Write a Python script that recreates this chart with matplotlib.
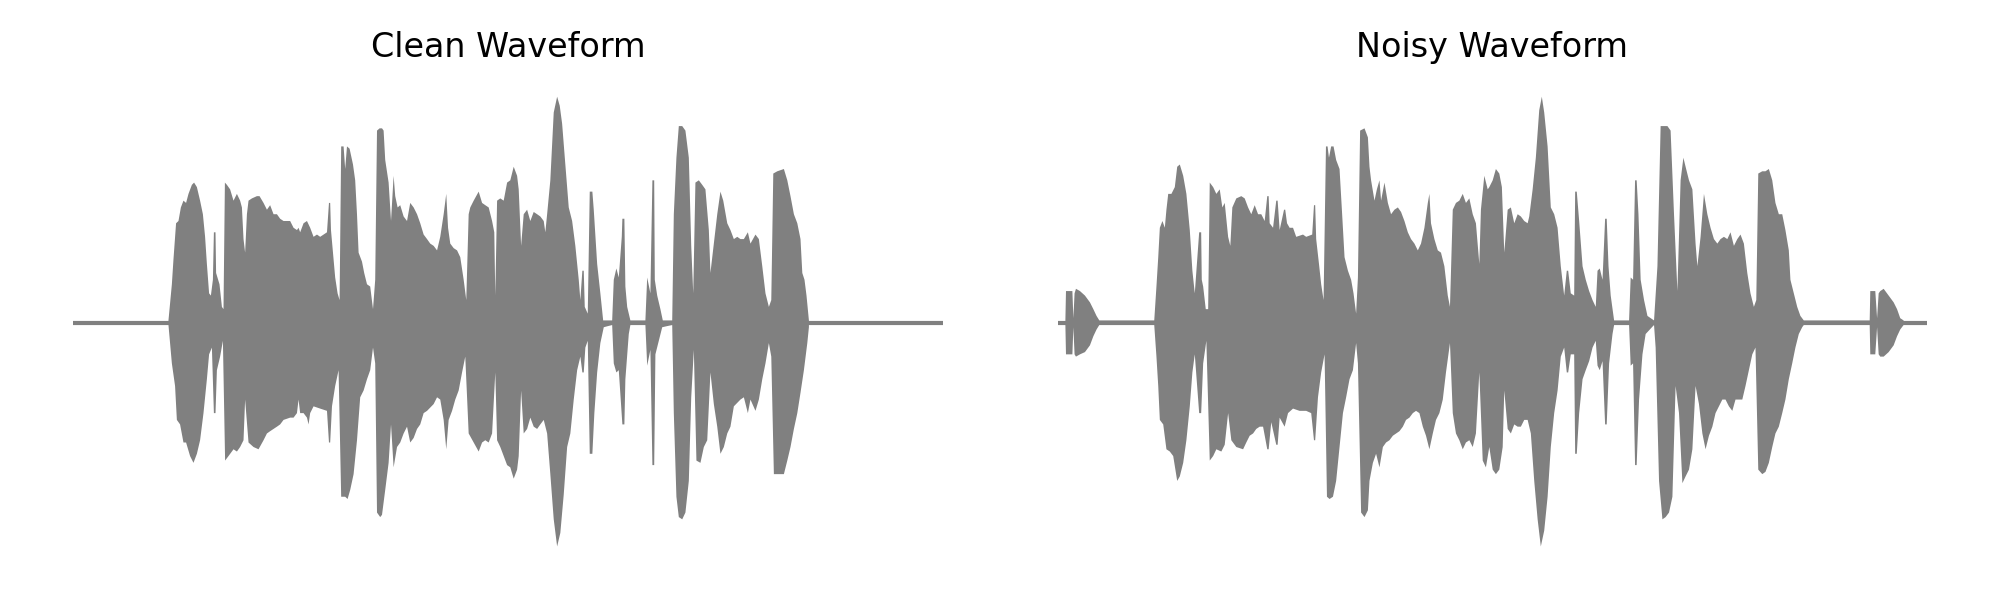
#!/usr/bin/env python3
"""
Clean vs noisy speech waveform, side by side.
Envelopes (upper / lower peak amplitude) read per time step in ms.
"""

import numpy as np
import matplotlib
matplotlib.use('Agg')
import matplotlib.pyplot as plt

DURATION_MS = 4350
WAVE_COLOR = 'gray'

# --- Clean waveform envelope ---
CLEAN_TOP_T = [478, 495, 503, 516, 528, 540, 553, 566, 578, 595,
               606, 620, 636, 650, 661, 670, 681, 690, 700, 705,
               713, 716, 733, 745, 753, 760, 770, 786, 803, 820,
               836, 845, 853, 861, 870, 878, 895, 920, 933, 953,
               970, 986, 1003, 1020, 1036, 1053, 1070, 1086, 1103, 1120,
               1128, 1136, 1153, 1170, 1186, 1203, 1220, 1236, 1253, 1270,
               1280, 1286, 1290, 1300, 1311, 1323, 1333, 1341, 1353, 1361,
               1370, 1383, 1400, 1411, 1420, 1428, 1445, 1456, 1470, 1486,
               1500, 1511, 1520, 1533, 1545, 1553, 1561, 1578, 1590, 1603,
               1611, 1623, 1636, 1653, 1670, 1686, 1703, 1720, 1736, 1753,
               1770, 1786, 1803, 1820, 1836, 1853, 1866, 1875, 1886, 1903,
               1920, 1936, 1953, 1966, 1978, 1986, 2003, 2028, 2045, 2061,
               2078, 2095, 2106, 2111, 2120, 2136, 2153, 2170, 2186,
               2203, 2220, 2228, 2240, 2253, 2270, 2286, 2303, 2320, 2336,
               2353, 2361, 2370, 2386, 2403, 2420, 2433, 2445, 2461, 2478,
               2495, 2511, 2528, 2536, 2546, 2553, 2558, 2573, 2583, 2596,
               2603, 2620, 2636, 2650, 2695, 2703, 2716, 2728, 2743, 2746,
               2756, 2761, 2770, 2786, 2861, 2870, 2886, 2896, 2905, 2908,
               2920, 2936, 2948, 2995, 3003, 3016, 3028, 3045, 3061, 3078,
               3090, 3100, 3111, 3128, 3145, 3161, 3178, 3186, 3203, 3220,
               3236, 3250, 3270, 3286, 3303, 3320, 3336, 3353, 3373, 3386,
               3411, 3428, 3445, 3461, 3478, 3490, 3500, 3520, 3553, 3570,
               3586, 3603, 3620, 3636, 3645, 3656, 3666, 3678]
CLEAN_TOP_A = [0.01, 0.17, 0.28, 0.44, 0.45, 0.51, 0.54, 0.53, 0.57, 0.61,
               0.62, 0.60, 0.54, 0.48, 0.38, 0.26, 0.13, 0.12, 0.19, 0.40,
               0.40, 0.22, 0.17, 0.07, 0.06, 0.62, 0.61, 0.59, 0.54, 0.57,
               0.54, 0.51, 0.37, 0.31, 0.48, 0.54, 0.55, 0.56, 0.56, 0.53,
               0.50, 0.52, 0.48, 0.48, 0.46, 0.45, 0.45, 0.45, 0.42, 0.41,
               0.42, 0.40, 0.44, 0.45, 0.42, 0.38, 0.39, 0.38, 0.39, 0.40,
               0.53, 0.53, 0.41, 0.31, 0.20, 0.13, 0.10, 0.78, 0.78, 0.68,
               0.78, 0.77, 0.70, 0.63, 0.48, 0.31, 0.27, 0.22, 0.17, 0.16,
               0.06, 0.19, 0.85, 0.86, 0.86, 0.85, 0.72, 0.62, 0.45, 0.65,
               0.56, 0.51, 0.52, 0.47, 0.45, 0.53, 0.51, 0.48, 0.44, 0.39,
               0.37, 0.35, 0.34, 0.32, 0.38, 0.48, 0.57, 0.42, 0.35, 0.33,
               0.32, 0.29, 0.19, 0.10, 0.48, 0.51, 0.54, 0.58, 0.53, 0.52,
               0.51, 0.45, 0.40, 0.12, 0.54, 0.55, 0.54, 0.62, 0.63,
               0.69, 0.65, 0.59, 0.34, 0.48, 0.50, 0.45, 0.49, 0.48, 0.47,
               0.45, 0.40, 0.48, 0.63, 0.93, 1.00, 0.96, 0.88, 0.70, 0.51,
               0.45, 0.34, 0.19, 0.10, 0.23, 0.23, 0.07, 0.04, 0.58, 0.58,
               0.50, 0.26, 0.13, 0.01, 0.01, 0.19, 0.24, 0.20, 0.38, 0.46,
               0.46, 0.16, 0.07, 0.01, 0.01, 0.20, 0.13, 0.63, 0.63, 0.19,
               0.12, 0.06, 0.01, 0.01, 0.48, 0.73, 0.87, 0.87, 0.85, 0.73,
               0.34, 0.13, 0.62, 0.63, 0.61, 0.59, 0.41, 0.22, 0.35, 0.48,
               0.58, 0.54, 0.44, 0.41, 0.37, 0.38, 0.37, 0.37, 0.40, 0.35,
               0.39, 0.37, 0.25, 0.13, 0.07, 0.10, 0.66, 0.67, 0.68, 0.63,
               0.56, 0.48, 0.44, 0.37, 0.22, 0.19, 0.12, 0.01]
CLEAN_BOT_T = [478, 495, 511, 520, 536, 553, 566, 586, 603, 620,
               636, 653, 670, 681, 695, 705, 713, 720, 736, 750,
               761, 778, 803, 820, 836, 853, 861, 878, 903, 928,
               953, 970, 986, 1003, 1020, 1036, 1053, 1086, 1103, 1120,
               1128, 1136, 1153, 1170, 1178, 1186, 1203, 1236, 1270, 1280,
               1286, 1295, 1311, 1328, 1341, 1361, 1373, 1386, 1403, 1420,
               1436, 1453, 1470, 1486, 1500, 1511, 1520, 1536, 1545, 1561,
               1578, 1590, 1603, 1620, 1636, 1653, 1670, 1686, 1703, 1720,
               1736, 1753, 1770, 1803, 1820, 1836, 1853, 1866, 1878, 1895,
               1911, 1928, 1945, 1961, 1978, 2003, 2028, 2045, 2061, 2078,
               2095, 2111, 2120, 2136, 2170, 2186,
               2203, 2220, 2228, 2240, 2253, 2270, 2286, 2303, 2320, 2336,
               2353, 2370, 2386, 2403, 2420, 2436, 2453, 2470, 2486, 2503,
               2520, 2536, 2546, 2553, 2561, 2573, 2583, 2596, 2606, 2620,
               2636, 2653, 2695, 2703, 2716, 2728, 2746, 2756, 2761, 2778,
               2786, 2861, 2870, 2886, 2896, 2905, 2911, 2928, 2945, 2995,
               3003, 3016, 3028, 3045, 3061, 3078, 3090, 3103, 3116, 3136,
               3153, 3170, 3186, 3203, 3220, 3236, 3253, 3270, 3286, 3303,
               3336, 3353, 3373, 3386, 3411, 3428, 3445, 3461, 3478, 3490,
               3503, 3528, 3553, 3570, 3586, 3603, 3620, 3636, 3653, 3670,
               3678]
CLEAN_BOT_A = [-0.01, -0.18, -0.28, -0.43, -0.45, -0.53, -0.53, -0.59, -0.62, -0.58,
               -0.52, -0.40, -0.25, -0.14, -0.11, -0.40, -0.40, -0.21, -0.15, -0.08,
               -0.61, -0.59, -0.56, -0.57, -0.55, -0.52, -0.34, -0.53, -0.55, -0.56,
               -0.52, -0.49, -0.48, -0.47, -0.46, -0.45, -0.43, -0.42, -0.42, -0.40,
               -0.34, -0.40, -0.40, -0.42, -0.45, -0.40, -0.37, -0.38, -0.39, -0.53,
               -0.53, -0.37, -0.28, -0.21, -0.77, -0.77, -0.78, -0.74, -0.67, -0.52,
               -0.33, -0.30, -0.25, -0.21, -0.11, -0.18, -0.84, -0.86, -0.85, -0.74,
               -0.62, -0.45, -0.64, -0.55, -0.53, -0.49, -0.46, -0.53, -0.51, -0.47,
               -0.45, -0.40, -0.39, -0.36, -0.33, -0.34, -0.43, -0.56, -0.43, -0.39,
               -0.34, -0.30, -0.22, -0.15, -0.49, -0.53, -0.57, -0.53, -0.52, -0.53,
               -0.49, -0.22, -0.52, -0.55, -0.63, -0.64,
               -0.69, -0.65, -0.59, -0.30, -0.49, -0.47, -0.42, -0.46, -0.47, -0.45,
               -0.43, -0.49, -0.67, -0.87, -0.99, -0.93, -0.76, -0.55, -0.49, -0.34,
               -0.21, -0.15, -0.22, -0.22, -0.11, -0.08, -0.58, -0.58, -0.40, -0.22,
               -0.09, -0.02, -0.01, -0.18, -0.22, -0.21, -0.45, -0.45, -0.25, -0.05,
               -0.01, -0.01, -0.19, -0.12, -0.63, -0.63, -0.14, -0.08, -0.02, -0.01,
               -0.40, -0.77, -0.86, -0.87, -0.84, -0.70, -0.33, -0.12, -0.61, -0.62,
               -0.55, -0.52, -0.22, -0.36, -0.46, -0.58, -0.55, -0.49, -0.46, -0.37,
               -0.34, -0.33, -0.40, -0.34, -0.39, -0.34, -0.25, -0.18, -0.09, -0.15,
               -0.67, -0.67, -0.67, -0.61, -0.55, -0.47, -0.40, -0.31, -0.21, -0.09,
               -0.02]

# --- Noisy waveform envelope ---
NOISY_TOP_T = [37, 40, 72, 77, 83, 90, 110, 135, 160, 177, 193, 207,
               482, 493, 502, 510, 523, 535, 543, 552, 568, 585,
               597, 610, 627, 643, 660, 673, 685, 707, 717, 720,
               727, 740, 752, 760, 777, 793, 810, 823, 835, 852,
               863, 873, 893, 918, 935, 952, 968, 985, 1002, 1018,
               1035, 1048, 1055, 1060, 1077, 1093, 1100, 1110, 1132, 1138,
               1147, 1160, 1177, 1193, 1227, 1243, 1273, 1282, 1288, 1293,
               1307, 1318, 1330, 1342, 1350, 1357, 1368, 1380, 1393, 1410,
               1423, 1435, 1452, 1468, 1480, 1493, 1502, 1513, 1535, 1552,
               1560, 1568, 1585, 1597, 1610, 1618, 1635, 1652, 1668, 1685,
               1702, 1718, 1735, 1752, 1768, 1785, 1802, 1818, 1835, 1852,
               1860, 1868, 1885, 1902, 1918, 1935, 1952, 1963, 1977, 1993,
               2010, 2027, 2043, 2060, 2077, 2093, 2110, 2118, 2135, 2152,
               2160,
               2177, 2193, 2210, 2223, 2235, 2252, 2268, 2285, 2302, 2318,
               2335, 2352, 2360, 2377, 2393, 2410, 2423, 2435, 2452, 2468,
               2485, 2502, 2518, 2535, 2548, 2555, 2568, 2585, 2590, 2598,
               2610, 2627, 2643, 2660, 2677, 2693, 2702, 2713, 2727, 2740,
               2748, 2757, 2768, 2785, 2860, 2868, 2880, 2890, 2898, 2907,
               2918, 2935, 2952, 2985, 3002, 3018, 3035, 3052, 3068, 3085,
               3102, 3118, 3132, 3143, 3160, 3177, 3193, 3202, 3218, 3235,
               3252, 3268, 3285, 3302, 3318, 3335, 3352, 3368, 3385, 3402,
               3418, 3435, 3452, 3468, 3485, 3497, 3507, 3527, 3543, 3560,
               3577, 3593, 3610, 3627, 3643, 3660, 3668, 3685, 3702, 3718,
               3735,
               4065, 4068, 4093, 4102, 4110, 4118, 4135, 4160, 4185, 4202, 4218, 4235]
NOISY_TOP_A = [0.01, 0.14, 0.14, 0.02, 0.13, 0.15, 0.14, 0.12, 0.09, 0.06, 0.03, 0.01,
               0.01, 0.16, 0.29, 0.42, 0.45, 0.42, 0.50, 0.57, 0.57, 0.60,
               0.69, 0.70, 0.65, 0.57, 0.41, 0.23, 0.13, 0.40, 0.40, 0.19,
               0.16, 0.06, 0.06, 0.62, 0.60, 0.57, 0.59, 0.51, 0.53, 0.38,
               0.34, 0.51, 0.55, 0.56, 0.55, 0.51, 0.48, 0.52, 0.48, 0.48,
               0.45, 0.56, 0.56, 0.44, 0.42, 0.54, 0.54, 0.41, 0.50, 0.50,
               0.44, 0.42, 0.42, 0.38, 0.39, 0.38, 0.39, 0.52, 0.52, 0.37,
               0.26, 0.17, 0.10, 0.78, 0.78, 0.73, 0.78, 0.78, 0.72, 0.68,
               0.48, 0.29, 0.23, 0.19, 0.13, 0.04, 0.20, 0.85, 0.86, 0.82,
               0.69, 0.63, 0.54, 0.59, 0.63, 0.54, 0.62, 0.53, 0.48, 0.50,
               0.51, 0.49, 0.45, 0.40, 0.37, 0.35, 0.32, 0.35, 0.42, 0.53,
               0.57, 0.44, 0.37, 0.32, 0.31, 0.25, 0.12, 0.07, 0.50, 0.53,
               0.54, 0.57, 0.53, 0.55, 0.48, 0.44, 0.26, 0.50, 0.65, 0.59,
               0.60,
               0.63, 0.68, 0.66, 0.60, 0.31, 0.50, 0.51, 0.44, 0.48, 0.47,
               0.45, 0.44, 0.47, 0.59, 0.73, 0.94, 1.00, 0.93, 0.78, 0.51,
               0.48, 0.42, 0.25, 0.12, 0.23, 0.23, 0.13, 0.12, 0.58, 0.58,
               0.45, 0.25, 0.19, 0.14, 0.10, 0.07, 0.23, 0.24, 0.19, 0.46,
               0.46, 0.25, 0.12, 0.01, 0.01, 0.20, 0.19, 0.63, 0.63, 0.48,
               0.19, 0.10, 0.03, 0.01, 0.25, 0.87, 0.87, 0.87, 0.85, 0.48,
               0.14, 0.63, 0.73, 0.69, 0.63, 0.59, 0.35, 0.25, 0.38, 0.57,
               0.48, 0.42, 0.37, 0.35, 0.37, 0.38, 0.37, 0.40, 0.34, 0.37,
               0.39, 0.35, 0.22, 0.13, 0.07, 0.10, 0.66, 0.67, 0.67, 0.68,
               0.63, 0.53, 0.48, 0.48, 0.41, 0.32, 0.19, 0.13, 0.07, 0.03,
               0.01,
               0.01, 0.14, 0.14, 0.02, 0.13, 0.14, 0.15, 0.12, 0.09, 0.06, 0.02, 0.01]
NOISY_BOT_T = [37, 40, 72, 77, 83, 90, 110, 135, 160, 177, 193, 207,
               482, 493, 502, 510, 527, 543, 560, 577, 597, 610,
               627, 643, 660, 673, 685, 707, 717, 727, 743, 760,
               777, 793, 818, 835, 852, 868, 893, 927, 943, 960,
               977, 993, 1010, 1027, 1048, 1055, 1068, 1093, 1100, 1110,
               1135, 1152, 1177, 1210, 1243, 1268, 1282, 1288, 1302, 1318,
               1335, 1347, 1360, 1377, 1393, 1410, 1427, 1443, 1460, 1477,
               1493, 1502, 1518, 1535, 1552, 1560, 1577, 1593, 1610, 1627,
               1643, 1660, 1677, 1710, 1727, 1743, 1760, 1777, 1793, 1810,
               1827, 1843, 1860, 1877, 1893, 1910, 1927, 1943, 1963, 1977,
               1993, 2010, 2027, 2043, 2060, 2077, 2093, 2110, 2127, 2143,
               2160,
               2177, 2193, 2210, 2227, 2235, 2252, 2268, 2285, 2302, 2318,
               2335, 2352, 2368, 2385, 2402, 2418, 2435, 2452, 2468, 2485,
               2502, 2518, 2535, 2548, 2555, 2568, 2585, 2590, 2598, 2610,
               2627, 2643, 2660, 2677, 2693, 2702, 2713, 2727, 2740, 2748,
               2760, 2777, 2785, 2860, 2868, 2880, 2890, 2898, 2910, 2927,
               2943, 2985, 2993, 3010, 3027, 3043, 3060, 3077, 3093, 3110,
               3127, 3143, 3160, 3177, 3193, 3210, 3227, 3243, 3260, 3277,
               3293, 3310, 3327, 3343, 3360, 3377, 3393, 3427, 3443, 3460,
               3477, 3493, 3507, 3527, 3543, 3560, 3577, 3593, 3610, 3627,
               3643, 3660, 3677, 3693, 3710, 3727, 3735,
               4065, 4068, 4093, 4102, 4110, 4118, 4135, 4160, 4185, 4202, 4218, 4235]
NOISY_BOT_A = [-0.01, -0.14, -0.14, -0.02, -0.14, -0.15, -0.14, -0.13, -0.10, -0.06, -0.03, -0.01,
               -0.01, -0.15, -0.28, -0.43, -0.45, -0.56, -0.57, -0.59, -0.70, -0.68,
               -0.62, -0.52, -0.37, -0.22, -0.14, -0.40, -0.40, -0.18, -0.08, -0.61,
               -0.59, -0.56, -0.57, -0.54, -0.40, -0.52, -0.55, -0.56, -0.53, -0.50,
               -0.49, -0.47, -0.46, -0.46, -0.56, -0.56, -0.44, -0.54, -0.54, -0.42,
               -0.46, -0.40, -0.38, -0.39, -0.39, -0.40, -0.52, -0.52, -0.33, -0.22,
               -0.14, -0.77, -0.78, -0.77, -0.70, -0.55, -0.40, -0.33, -0.25, -0.21,
               -0.09, -0.18, -0.84, -0.86, -0.83, -0.70, -0.62, -0.58, -0.64, -0.55,
               -0.53, -0.52, -0.50, -0.48, -0.46, -0.43, -0.42, -0.40, -0.39, -0.40,
               -0.46, -0.50, -0.56, -0.49, -0.43, -0.40, -0.34, -0.22, -0.09, -0.40,
               -0.49, -0.52, -0.56, -0.53, -0.52, -0.55, -0.49, -0.22, -0.61, -0.64,
               -0.55,
               -0.65, -0.67, -0.65, -0.55, -0.30, -0.47, -0.49, -0.45, -0.46, -0.46,
               -0.43, -0.43, -0.49, -0.70, -0.87, -0.99, -0.92, -0.77, -0.55, -0.40,
               -0.30, -0.15, -0.11, -0.22, -0.22, -0.14, -0.14, -0.58, -0.58, -0.40,
               -0.25, -0.21, -0.17, -0.11, -0.08, -0.19, -0.21, -0.17, -0.45, -0.45,
               -0.18, -0.05, -0.01, -0.01, -0.19, -0.18, -0.63, -0.63, -0.34, -0.14,
               -0.05, -0.01, -0.11, -0.70, -0.87, -0.86, -0.84, -0.77, -0.28, -0.40,
               -0.71, -0.68, -0.65, -0.56, -0.28, -0.36, -0.49, -0.56, -0.50, -0.46,
               -0.40, -0.37, -0.34, -0.34, -0.37, -0.39, -0.34, -0.34, -0.28, -0.21,
               -0.14, -0.11, -0.65, -0.67, -0.66, -0.62, -0.55, -0.49, -0.46, -0.40,
               -0.34, -0.25, -0.18, -0.11, -0.05, -0.02, -0.01,
               -0.01, -0.14, -0.14, -0.02, -0.14, -0.15, -0.15, -0.13, -0.10, -0.06, -0.03, -0.01]


def draw_waveform(ax, top_t, top_a, bot_t, bot_a, title):
    """Silence line plus filled peak envelope."""
    t = np.concatenate([np.asarray(top_t), np.asarray(bot_t)[::-1]])
    a = np.concatenate([np.asarray(top_a), np.asarray(bot_a)[::-1]])

    ax.plot([0, DURATION_MS], [0, 0], color=WAVE_COLOR, linewidth=1.5,
            solid_capstyle='butt')
    ax.fill(t, a, color=WAVE_COLOR, linewidth=0)

    ax.set_xlim(0, DURATION_MS)
    ax.set_ylim(-1.1, 1.1)
    ax.set_title(title, fontsize=12)
    ax.axis('off')


def main():
    fig = plt.figure(figsize=(10, 3), dpi=200)

    ax_clean = fig.add_axes([0.0364, 0.0478, 0.4353, 0.8287])
    ax_noisy = fig.add_axes([0.529, 0.0478, 0.4343, 0.8287])

    draw_waveform(ax_clean, CLEAN_TOP_T, CLEAN_TOP_A, CLEAN_BOT_T, CLEAN_BOT_A,
                  'Clean Waveform')
    draw_waveform(ax_noisy, NOISY_TOP_T, NOISY_TOP_A, NOISY_BOT_T, NOISY_BOT_A,
                  'Noisy Waveform')

    fig.savefig('out.png', dpi=200)
    plt.close(fig)


if __name__ == '__main__':
    main()
